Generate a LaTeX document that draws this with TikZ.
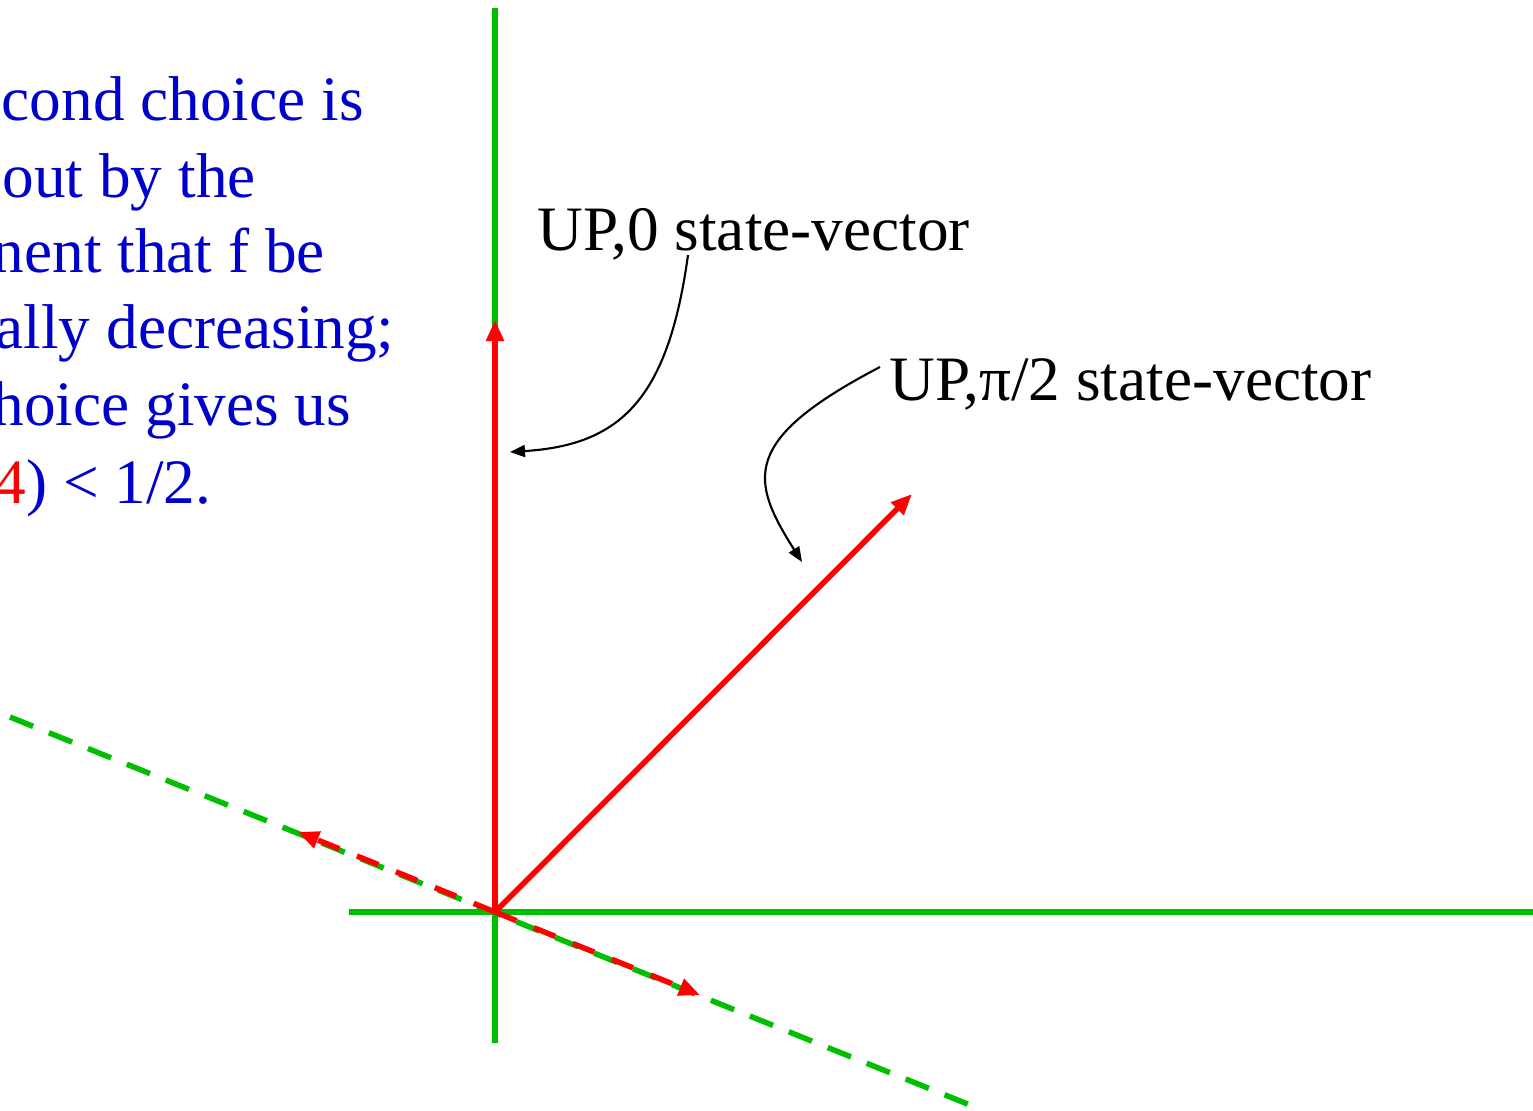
\documentclass[tikz,border=0pt]{standalone}
\usepackage{fontspec}
\setmainfont{Liberation Serif}
\usepackage{xcolor}
\usepackage{tikz}
\usetikzlibrary{arrows.meta, positioning}

\definecolor{axisgreen}{RGB}{0,190,0}
\definecolor{vecred}{RGB}{255,0,0}
\definecolor{textblue}{RGB}{0,0,204}

\begin{document}
\begin{tikzpicture}[
  axis/.style={draw=axisgreen, line width=0.055cm},
  vec/.style={draw=vecred, line width=0.055cm,
              -{Triangle[length=0.21cm, width=0.17cm]}},
  note/.style={line width=0.6pt,
               -{Triangle[length=0.15cm, width=0.12cm]}},
  label/.style={anchor=base west, inner sep=0,
                font=\fontsize{18}{21.8}\selectfont},
  remark/.style={label, text=textblue}
]
  \useasboundingbox (0,0) rectangle (15.33,11.10);

  % axes
  \coordinate (origin) at (4.95,1.98);
  \draw[axis] (4.95,11.02) -- (4.95,0.67);
  \draw[axis] (3.49,1.98) -- (15.33,1.98);
  \draw[axis, dash pattern=on 0.25cm off 0.17cm] (0.10,3.93) -- (9.70,0.05);

  % state vectors
  \coordinate (upzero) at (4.95,7.90);
  \coordinate (uphalf) at (9.12,6.16);
  \coordinate (downleft) at (2.98,2.78);
  \coordinate (downright) at (7.00,1.15);
  \draw[vec] (origin) -- (upzero);
  \draw[vec] (origin) -- (uphalf);
  \draw[vec, dash pattern=on 0.23cm off 0.19cm] (origin) -- (downleft);
  \draw[vec, dash pattern=on 0.23cm off 0.19cm] (origin) -- (downright);

  % labels
  \node[label] (zerolabel) at (5.37,8.60) {UP,0 state-vector};
  \node[label] (halflabel) at (8.89,7.10) {UP,π/2 state-vector};
  \coordinate (zerotip) at (5.10,6.58);
  \coordinate (halftip) at (8.02,5.48);
  \draw[note] ([xshift=1.51cm, yshift=-0.05cm]zerolabel.base west)
    .. controls (6.68,7.10) and (6.20,6.65) .. (zerotip);
  \draw[note] ([xshift=-0.09cm, yshift=0.33cm]halflabel.base west)
    .. controls (7.40,6.70) and (7.50,6.30) .. (halftip);

  % remark text, cut at the left edge
  \node[remark] (linea) at (0.01,9.90) {cond choice is};
  \node[remark] (lineb) at (0.02,9.13) {out by the};
  \node[remark] (linec) at (-0.08,8.38) {nent that f be};
  \node[remark] (lined) at (-0.05,7.62) {ally decreasing;};
  \node[remark] (linee) at (-0.08,6.85) {hoice gives us};
  \node[remark] (linef) at (-0.06,6.07) {{\color{vecred}4}) < 1/2.};
\end{tikzpicture}
\end{document}
